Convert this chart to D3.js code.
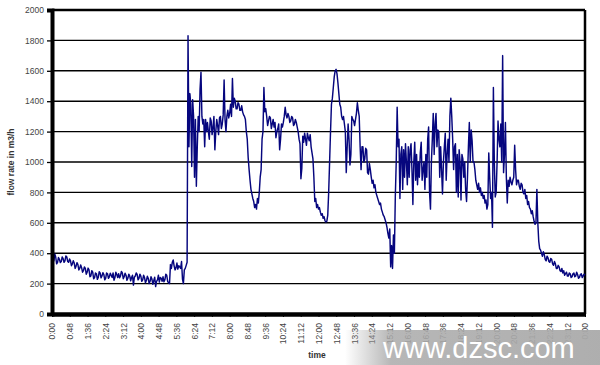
<!DOCTYPE html>
<html><head><meta charset="utf-8">
<script src="https://d3js.org/d3.v7.min.js"></script>
<style>body{margin:0;background:#fff}svg{display:block}</style>
</head><body><svg id="c" width="600" height="365"></svg>
<script>
const yTicks = [0,200,400,600,800,1000,1200,1400,1600,1800,2000];
const xTickLabels = ["0:00","0:48","1:36","2:24","3:12","4:00","4:48","5:36","6:24","7:12","8:00","8:48","9:36","10:24","11:12","12:00","12:48","13:36","14:24","15:12","16:00","16:48","17:36","18:24","19:12","20:00","20:48","21:36","22:24","23:12","0:00"];
const xTickHours = [0,0.8,1.6,2.4,3.2,4,4.8,5.6,6.4,7.2,8,8.8,9.6,10.4,11.2,12,12.8,13.6,14.4,15.2,16,16.8,17.6,18.4,19.2,20,20.8,21.6,22.4,23.2,24];
const sampleMinutes = 2.5;
// flow values every 2.5 minutes (m3/h), one row per hour
const flow00to06 = [
 410,365,350,395,375,330,340,372,360,338,345,375,365,340,350,382,375,345,340,362,350,318,330,350,
 335,300,315,338,325,290,300,322,305,275,285,310,300,262,275,302,290,245,250,285,275,232,240,270,
 265,228,240,278,270,238,250,272,260,225,235,270,265,235,245,268,255,240,270,222,240,275,260,240,
 265,238,250,280,270,232,245,268,255,222,235,262,250,218,240,255,190,242,250,270,260,225,235,262,
 250,215,225,255,240,205,220,248,235,200,215,245,230,195,220,242,180,215,225,255,210,240,235,215,
 245,212,225,262,255,215,205,200,325,300,340,355,315,290,305,335,295,318,310,300,345,230,200,290];
const flow06to12 = [
 300,320,340,1830,1100,1450,1380,970,1410,1300,900,1280,840,1100,1300,1200,1480,1590,1300,1250,1280,1100,1280,1200,
 1260,1200,1150,1290,1270,1180,1230,1300,1080,1200,1280,1240,1180,1290,1300,1220,1250,1310,1540,1280,1200,1300,1340,1290,
 1320,1380,1300,1550,1360,1420,1400,1350,1350,1390,1380,1340,1340,1370,1330,1310,1300,1280,1200,1150,1030,950,880,820,
 790,760,740,700,720,690,760,730,800,900,950,1150,1200,1490,1330,1350,1300,1240,1270,1300,1290,1220,1250,1280,
 1230,1260,1160,1200,1220,1250,1080,1150,1250,1230,1260,1300,1360,1310,1290,1320,1300,1260,1270,1300,1290,1240,1250,1280,
 1260,1230,1200,1150,1120,890,960,1170,1130,1190,1150,1110,1190,1160,1140,1180,1100,1060,1020,900,740,760,700,720];
const flow12to18 = [
 690,700,670,650,660,630,640,615,605,610,650,800,1000,1200,1380,1420,1490,1560,1600,1610,1580,1520,1450,1380,
 1360,1300,1280,1300,1250,1200,930,1100,1250,1150,980,1050,1300,1280,1270,1240,1280,1320,1390,1340,1300,1100,950,1100,
 1100,1000,1020,1090,1080,930,920,990,950,900,860,880,830,850,800,780,760,740,720,730,690,670,650,640,
 620,600,570,530,500,560,310,450,300,520,400,770,1000,1360,1100,1150,760,1050,1100,820,1080,900,1120,1000,
 850,1100,900,1080,1120,950,720,1000,1130,880,1050,850,1000,900,1060,1130,880,950,1000,820,1050,900,1150,1230,
 800,690,1000,1150,1320,1050,1250,1320,1100,1210,1200,900,1100,950,790,1000,1100,1190,880,1050,1150,1000,1300,1420];
const flow18to24 = [
 1300,1150,950,1100,1120,800,1050,770,1080,1000,750,1050,1020,900,1000,820,740,900,1100,1260,1000,1210,1140,1000,
 1000,950,880,850,820,860,800,830,780,800,760,780,730,750,690,720,1060,900,760,800,570,1490,1000,770,
 800,1000,1270,1150,1100,1250,1000,1700,930,1050,1260,900,730,880,840,900,870,850,880,900,1110,950,850,880,
 880,840,820,860,850,800,790,820,760,780,720,740,700,690,660,680,640,610,590,600,820,600,480,430,
 420,400,380,410,390,360,350,380,370,345,340,365,360,330,320,345,330,300,300,320,310,285,280,300,
 270,285,255,265,275,250,250,270,265,240,245,265,270,245,250,275,260,235,240,260,265,240,250,262,
 255];
const flow = [].concat(flow00to06, flow06to12, flow12to18, flow18to24);

const svg = d3.select("#c");
const L = 52, R = 585, T = 10, B = 314;
const x = d3.scaleLinear().domain([0,24]).range([L,R]);
const y = d3.scaleLinear().domain([0,2000]).range([B,T]);
const font = "Liberation Sans, Arial, sans-serif";

// gridlines
svg.append("g").selectAll("line").data(yTicks.slice(1,-1)).join("line")
  .attr("x1",L).attr("x2",R).attr("y1",d=>y(d)).attr("y2",d=>y(d))
  .attr("stroke","#000").attr("stroke-width",1.4);

// frame top/right
svg.append("line").attr("x1",L).attr("x2",R).attr("y1",T).attr("y2",T).attr("stroke","#000").attr("stroke-width",2.5);
svg.append("line").attr("x1",R).attr("x2",R).attr("y1",T).attr("y2",B).attr("stroke","#000").attr("stroke-width",2.5);

// data line
const line = d3.line().x((d,i)=>x(i*sampleMinutes/60)).y(d=>y(d));
svg.append("path").datum(flow).attr("d",line)
  .attr("fill","none").attr("stroke","#06067e").attr("stroke-width",1.45).attr("stroke-linejoin","round");

// y axis
const yAxis = svg.append("g").attr("transform",`translate(${L},0)`)
  .call(d3.axisLeft(y).tickValues(yTicks).tickFormat(d3.format("d")).tickSize(5).tickPadding(3));
yAxis.select(".domain").attr("stroke","#000").attr("stroke-width",4);
yAxis.selectAll(".tick line").attr("stroke","#000").attr("stroke-width",1.3);
yAxis.selectAll("text").attr("font-family",font).attr("font-size",8.5).attr("fill","#444");

// x axis
const xAxis = svg.append("g").attr("transform",`translate(0,${B})`)
  .call(d3.axisBottom(x).tickValues(xTickHours).tickFormat((d,i)=>xTickLabels[i]).tickSize(3).tickSizeOuter(0));
xAxis.select(".domain").attr("stroke","#000").attr("stroke-width",4.5);
xAxis.selectAll(".tick line").attr("stroke","#000");
xAxis.selectAll("text").attr("font-family",font).attr("font-size",8.5).attr("fill","#444")
  .attr("transform","rotate(-90)").attr("text-anchor","end").attr("x",-9).attr("y",0).attr("dy","0.35em");

// axis titles
svg.append("text").attr("transform","translate(14,162) rotate(-90)").attr("text-anchor","middle")
  .attr("font-family",font).attr("font-size",8.5).attr("font-weight","bold").attr("fill","#333")
  .text("flow rate in m3/h");
svg.append("text").attr("x",317).attr("y",358).attr("text-anchor","middle")
  .attr("font-family",font).attr("font-size",8.5).attr("font-weight","bold").attr("fill","#333")
  .text("time");

// watermark band
const defs = svg.append("defs");
const grad = defs.append("linearGradient").attr("id","wm").attr("x1","0").attr("x2","1");
grad.append("stop").attr("offset","0").attr("stop-color","#aaa").attr("stop-opacity",0);
grad.append("stop").attr("offset","0.18").attr("stop-color","#aaa").attr("stop-opacity",0.85);
grad.append("stop").attr("offset","1").attr("stop-color","#aaa").attr("stop-opacity",0.95);
svg.append("rect").attr("x",345).attr("y",330).attr("width",255).attr("height",35).attr("fill","url(#wm)");
svg.append("text").attr("x",383).attr("y",358).attr("font-family",font)
  .attr("font-size",29).attr("fill","#fff").text("www.dzsc.com");
</script></body></html>
